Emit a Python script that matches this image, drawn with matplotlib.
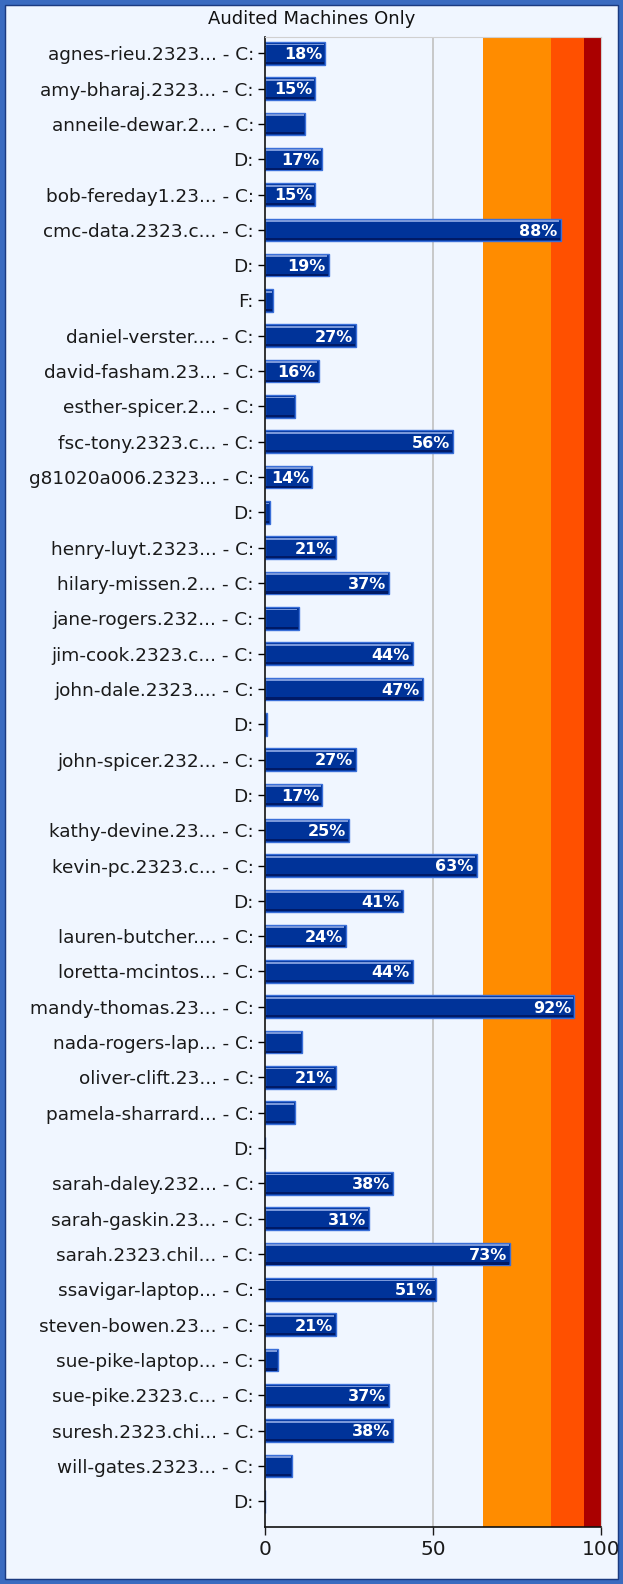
import matplotlib
matplotlib.use("Agg")
import matplotlib.pyplot as plt
from matplotlib.patches import Rectangle

plt.rcParams['font.family'] = ['DejaVu Sans']

machines = ["agnes-rieu.2323...", "amy-bharaj.2323...", "anneile-dewar.2...", "",
            "bob-fereday1.23...", "cmc-data.2323.c...", "", "",
            "daniel-verster....", "david-fasham.23...", "esther-spicer.2...",
            "fsc-tony.2323.c...", "g81020a006.2323...", "", "henry-luyt.2323...",
            "hilary-missen.2...", "jane-rogers.232...", "jim-cook.2323.c...",
            "john-dale.2323....", "", "john-spicer.232...", "", "kathy-devine.23...",
            "kevin-pc.2323.c...", "", "lauren-butcher....", "loretta-mcintos...",
            "mandy-thomas.23...", "nada-rogers-lap...", "oliver-clift.23...",
            "pamela-sharrard...", "", "sarah-daley.232...", "sarah-gaskin.23...",
            "sarah.2323.chil...", "ssavigar-laptop...", "steven-bowen.23...",
            "sue-pike-laptop...", "sue-pike.2323.c...", "suresh.2323.chi...",
            "will-gates.2323...", ""]
drives = ["C:", "C:", "C:", "D:", "C:", "C:", "D:", "F:", "C:", "C:", "C:", "C:",
          "C:", "D:", "C:", "C:", "C:", "C:", "C:", "D:", "C:", "D:", "C:", "C:",
          "D:", "C:", "C:", "C:", "C:", "C:", "C:", "D:", "C:", "C:", "C:", "C:",
          "C:", "C:", "C:", "C:", "C:", "D:"]
usage = [18, 15, 12, 17, 15, 88, 19, 2.4, 27, 16, 9, 56, 14, 1.5, 21, 37, 10, 44,
         47, 0.6, 27, 17, 25, 63, 41, 24, 44, 92, 11, 21, 9, 0, 38, 31, 73, 51,
         21, 4, 37, 38, 8, 0]
bands = [(65, 85, '#FF8C00'), (85, 95, '#FF5000'), (95, 100, '#AA0000')]
title = "Audited Machines Only"

labels = [f"{m} - {d}" if m else d for m, d in zip(machines, drives)]
bg = '#F0F6FF'

fig = plt.figure(figsize=(6.23, 15.84), dpi=100, facecolor=bg)
ax = fig.add_axes([265/623, 1 - 1527/1584, 336/623, 1490/1584])
ax.set_facecolor(bg)

for lo, hi, c in bands:
    ax.axvspan(lo, hi, color=c, zorder=0, lw=0)
ax.axvline(50, color='#C0C0C0', lw=1.2, zorder=0.5)

n = len(usage)
ys = list(range(n))
ax.barh(ys, usage, height=0.64, color='#003399', edgecolor='#3A6FD8',
        linewidth=1.0, zorder=2)
# top highlight and bottom shadow
ax.barh([y - 0.25 for y in ys], [max(v - 0.8, 0) for v in usage], height=0.05,
        left=0.4, color='#7A98DA', linewidth=0, zorder=3)
ax.barh([y + 0.27 for y in ys], [max(v - 0.6, 0) for v in usage], height=0.06,
        left=0.3, color='#001A66', linewidth=0, zorder=3)
for y, v in zip(ys, usage):
    if v >= 13:
        ax.text(v - 0.9, y + 0.04, f"{v:.0f}%", color='white', fontweight='bold',
                fontsize=11.5, ha='right', va='center', zorder=4)

ax.set_xlim(0, 100)
ax.set_ylim(41.73, -0.46)
ax.set_yticks(ys)
ax.set_yticklabels(labels, fontsize=13.3, color='#1A1A1A')
ax.set_xticks([0, 50, 100])
ax.tick_params(axis='x', labelsize=14.5, length=6, width=1, colors='#1A1A1A')
ax.tick_params(axis='y', length=5, width=1, pad=3)
for s in ['top', 'right']:
    ax.spines[s].set_color('#D0D0D0')
    ax.spines[s].set_linewidth(0.8)
for s in ['left', 'bottom']:
    ax.spines[s].set_color('#111111')
    ax.spines[s].set_linewidth(1.2)

fig.text(0.5, 1 - 19/1584, title, ha='center', va='center', fontsize=13,
         color='#111111')

fig.patches.append(Rectangle((0, 0), 1, 1, transform=fig.transFigure,
                             fill=False, edgecolor='#3A6BC0', linewidth=8))
fig.patches.append(Rectangle((5/623, 5/1584), 1 - 10/623, 1 - 10/1584,
                             transform=fig.transFigure, fill=False,
                             edgecolor='#1A3A80', linewidth=1))

fig.savefig("out.png", dpi=100, facecolor=bg)
